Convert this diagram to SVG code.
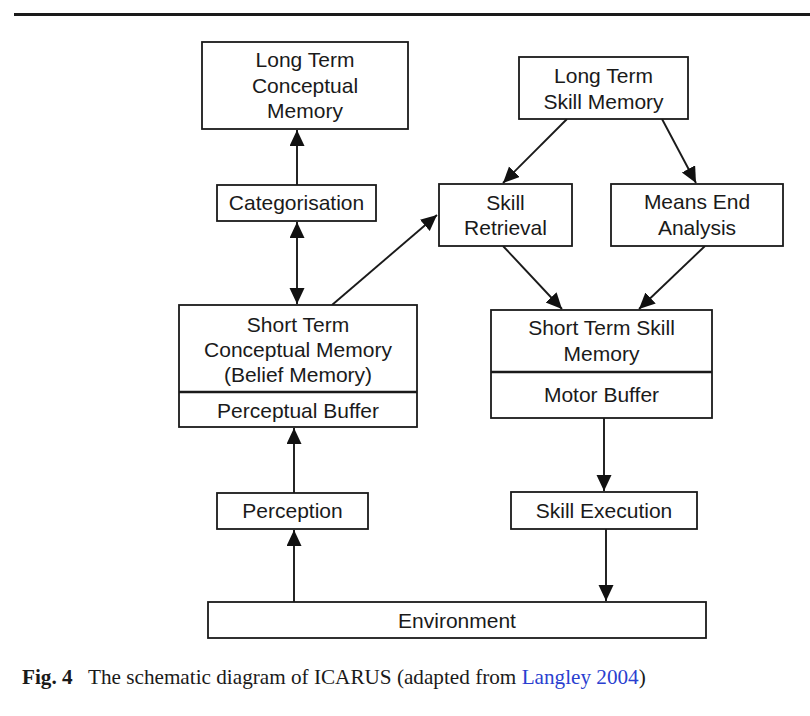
<svg xmlns="http://www.w3.org/2000/svg" width="810" height="716" viewBox="0 0 810 716">
<style>
.box{fill:#fff;stroke:#1a1a1a;stroke-width:1.8}
.div{stroke:#1a1a1a;stroke-width:2.4}
.t{font-family:"Liberation Sans",Arial,sans-serif;font-size:21px;fill:#1a1a1a;text-anchor:middle}
.c{stroke:#1a1a1a;stroke-width:1.9;fill:none}
.cap{font-family:"Liberation Serif","Times New Roman",serif;font-size:21.2px;fill:#1a1a1a}
</style>
<defs>
<marker id="ah" markerUnits="userSpaceOnUse" markerWidth="18" markerHeight="16" refX="16" refY="7.5" orient="auto-start-reverse">
<path d="M0,0 L16,7.5 L0,15 Z" fill="#111"/>
</marker>
</defs>
<rect x="14" y="13" width="796" height="3" fill="#1a1a1a"/>
<g id="connectors">
<line class="c" x1="297" y1="185" x2="297" y2="130" marker-end="url(#ah)"/>
<line class="c" x1="297" y1="222" x2="297" y2="304" marker-start="url(#ah)" marker-end="url(#ah)"/>
<line class="c" x1="294" y1="493" x2="294" y2="428" marker-end="url(#ah)"/>
<line class="c" x1="294" y1="602" x2="294" y2="530" marker-end="url(#ah)"/>
<line class="c" x1="332" y1="305" x2="437" y2="215" marker-end="url(#ah)"/>
<line class="c" x1="567" y1="119" x2="503" y2="183" marker-end="url(#ah)"/>
<line class="c" x1="662" y1="119" x2="696" y2="183" marker-end="url(#ah)"/>
<line class="c" x1="503" y1="246" x2="562" y2="309" marker-end="url(#ah)"/>
<line class="c" x1="705" y1="246" x2="639" y2="309" marker-end="url(#ah)"/>
<line class="c" x1="604" y1="418" x2="604" y2="491" marker-end="url(#ah)"/>
<line class="c" x1="606" y1="529" x2="606" y2="601" marker-end="url(#ah)"/>
</g>
<g id="ltcm">
<rect class="box" x="202" y="42" width="206" height="87"/>
<text class="t" x="305" y="67">Long Term</text>
<text class="t" x="305" y="93">Conceptual</text>
<text class="t" x="305" y="118">Memory</text>
</g>
<g id="categorisation">
<rect class="box" x="217" y="185" width="159" height="36"/>
<text class="t" x="296.5" y="210">Categorisation</text>
</g>
<g id="stcm">
<rect class="box" x="179" y="305" width="238" height="122"/>
<line class="div" x1="179" y1="392" x2="417" y2="392"/>
<text class="t" x="298" y="332">Short Term</text>
<text class="t" x="298" y="357">Conceptual Memory</text>
<text class="t" x="298" y="382">(Belief Memory)</text>
<text class="t" x="298" y="418">Perceptual Buffer</text>
</g>
<g id="perception">
<rect class="box" x="217" y="493" width="151" height="36"/>
<text class="t" x="292.5" y="518">Perception</text>
</g>
<g id="ltsm">
<rect class="box" x="519" y="57" width="169" height="62"/>
<text class="t" x="603.5" y="83">Long Term</text>
<text class="t" x="603.5" y="109">Skill Memory</text>
</g>
<g id="skill-retrieval">
<rect class="box" x="439" y="184" width="133" height="62"/>
<text class="t" x="505.5" y="210">Skill</text>
<text class="t" x="505.5" y="235">Retrieval</text>
</g>
<g id="means-end">
<rect class="box" x="611" y="184" width="172" height="62"/>
<text class="t" x="697" y="209">Means End</text>
<text class="t" x="697" y="235">Analysis</text>
</g>
<g id="stsm">
<rect class="box" x="491" y="310" width="221" height="108"/>
<line class="div" x1="491" y1="372" x2="712" y2="372"/>
<text class="t" x="601.5" y="335">Short Term Skill</text>
<text class="t" x="601.5" y="361">Memory</text>
<text class="t" x="601.5" y="402">Motor Buffer</text>
</g>
<g id="skill-execution">
<rect class="box" x="511" y="492" width="186" height="37"/>
<text class="t" x="604" y="518">Skill Execution</text>
</g>
<g id="environment">
<rect class="box" x="208" y="602" width="498" height="36"/>
<text class="t" x="457" y="628">Environment</text>
</g>
<text class="cap" x="22" y="684"><tspan font-weight="bold">Fig. 4</tspan><tspan x="88">The schematic diagram of ICARUS (adapted from </tspan><tspan fill="#2a3fd0">Langley 2004</tspan>)</text>
</svg>
